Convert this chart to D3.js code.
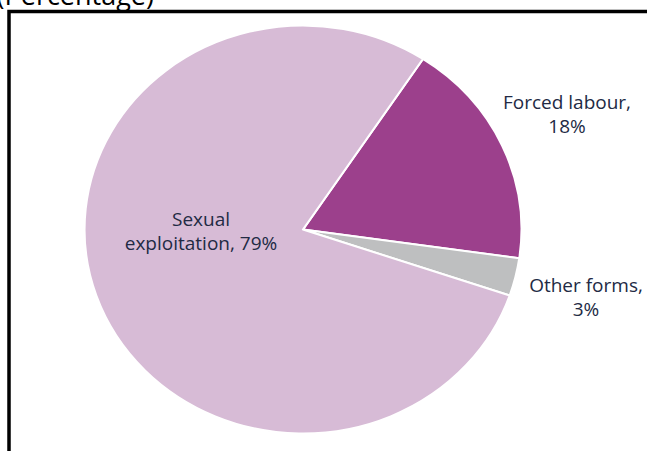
<!DOCTYPE html>
<html>
<head>
<meta charset="utf-8">
<script src="https://cdn.jsdelivr.net/npm/d3@7.9.0/dist/d3.min.js"></script>
<style>
  body { margin: 0; background: #fff; }
  svg { display: block; }
  text { font-family: "Open Sans", sans-serif; }
</style>
</head>
<body>
<svg width="647" height="451"></svg>
<script>
// slice data, clockwise from the top right boundary
const forms = ['Forced labour', 'Other forms', 'Sexual exploitation'];
const shares = [18, 3, 79];
const labelLines = [['Forced labour,', '18%'], ['Other forms,', '3%'], ['Sexual', 'exploitation, 79%']];
const sliceColors = ['#9c408c', '#bebfc0', '#d7bbd6'];

const svg = d3.select('svg');

// frame (only top and left edges show)
svg.append('path')
    .attr('d', 'M9,451 V11.5 H647')
    .attr('fill', 'none')
    .attr('stroke', '#000')
    .attr('stroke-width', 3.5);

// cut-off title
svg.append('text')
    .attr('x', 154)
    .attr('y', 5)
    .attr('text-anchor', 'end')
    .attr('font-size', 27)
    .attr('fill', '#000')
    .text('(Percentage)');

const cx = 303, cy = 229.5;
const ry = 204, rx = 218.5;

let pie = d3.pie()
    .sort(null)
    .value((d) => d)
    .startAngle(33.3 * Math.PI / 180)
    .endAngle(33.3 * Math.PI / 180 + 2 * Math.PI);
let arcGenerator = d3.arc().innerRadius(0).outerRadius(ry);
let arcData = pie(shares);

let g = svg.append('g')
    .attr('transform', `translate(${cx},${cy}) scale(${rx / ry},1)`);

arcData.forEach((d, i) => {
    g.append('path')
        .attr('d', arcGenerator(d))
        .attr('fill', sliceColors[i])
        .attr('stroke', '#fff')
        .attr('stroke-width', 2)
        .attr('stroke-linejoin', 'round');
});

// label positions (first baseline)
const labelPos = [[567, 109], [586, 292], [201, 226]];
labelLines.forEach((lines, i) => {
    let t = svg.append('text')
        .attr('text-anchor', 'middle')
        .attr('font-size', 19)
        .attr('fill', '#222a44');
    lines.forEach((line, j) => {
        t.append('tspan')
            .attr('x', labelPos[i][0])
            .attr('y', labelPos[i][1] + j * 24)
            .text(line);
    });
});
</script>
</body>
</html>
